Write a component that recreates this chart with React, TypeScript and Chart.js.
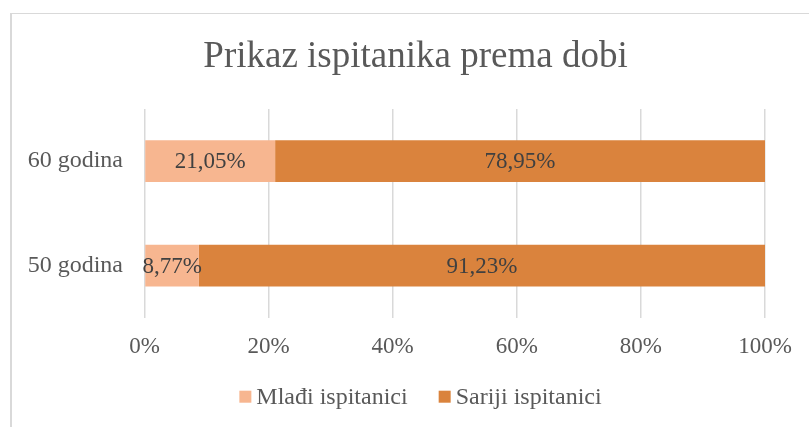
import { useEffect, useRef } from 'react';
import { Chart, registerables } from 'chart.js';

Chart.register(...registerables);

const categories = ['60 godina', '50 godina'];
const seriesNames = ['Mlađi ispitanici', 'Sariji ispitanici'];
const mladjiValues = [21.05, 8.77];
const sarijiValues = [78.95, 91.23];
const xTickMin = 0;
const xTickMax = 100;
const xTickStep = 20;
const chartTitle = 'Prikaz ispitanika prema dobi';

const FONT = "'Liberation Serif', 'Times New Roman', serif";
const LIGHT = '#F7B690';
const DARK = '#DA833D';

const fmt = (v: number) => v.toFixed(2).replace('.', ',') + '%';

const dataLabelPlugin = {
  id: 'dataLabels',
  afterDatasetsDraw(chart: any) {
    const ctx = chart.ctx;
    ctx.save();
    ctx.font = `23px ${FONT}`;
    ctx.fillStyle = '#404040';
    ctx.textAlign = 'center';
    ctx.textBaseline = 'middle';
    chart.data.datasets.forEach((ds: any, di: number) => {
      const meta = chart.getDatasetMeta(di);
      meta.data.forEach((bar: any, i: number) => {
        const cx = (bar.x + bar.base) / 2;
        ctx.fillText(fmt(ds.data[i]), cx, bar.y + 1);
      });
    });
    ctx.restore();
  },
};

const legendPlugin = {
  id: 'customLegend',
  afterDraw(chart: any) {
    const ctx = chart.ctx;
    ctx.save();
    ctx.font = `24px ${FONT}`;
    const items = chart.data.datasets.map((ds: any) => ({
      label: ds.label as string,
      color: ds.backgroundColor as string,
      w: ctx.measureText(ds.label).width,
    }));
    const box = 12;
    const gap = 5;
    const itemGap = 31;
    const total =
      items.reduce((s: number, it: any) => s + box + gap + it.w, 0) + itemGap * (items.length - 1);
    let x = chart.width / 2 + 5 - total / 2;
    const cy = chart.height - 30.3;
    ctx.textBaseline = 'middle';
    ctx.textAlign = 'left';
    items.forEach((it: any) => {
      ctx.fillStyle = it.color;
      ctx.fillRect(x, cy - box / 2, box, box);
      x += box + gap;
      ctx.fillStyle = '#595959';
      ctx.fillText(it.label, x, cy + 1);
      x += it.w + itemGap;
    });
    ctx.restore();
  },
};

export default function App() {
  const ref = useRef<HTMLCanvasElement>(null);

  useEffect(() => {
    if (!ref.current) return;
    const chart = new Chart(ref.current, {
      type: 'bar',
      data: {
        labels: categories,
        datasets: [
          {
            label: seriesNames[0],
            data: mladjiValues,
            backgroundColor: LIGHT,
            barPercentage: 0.4,
            categoryPercentage: 1,
          },
          {
            label: seriesNames[1],
            data: sarijiValues,
            backgroundColor: DARK,
            barPercentage: 0.4,
            categoryPercentage: 1,
          },
        ],
      },
      options: {
        indexAxis: 'y',
        responsive: false,
        animation: false,
        layout: { padding: 0 },
        plugins: {
          legend: { display: false },
          tooltip: { enabled: false },
          title: {
            display: true,
            text: chartTitle,
            color: '#595959',
            font: { family: FONT, size: 37, weight: 'normal', lineHeight: 1.2 },
            padding: { top: 21.3, bottom: 29.3 },
          },
        },
        scales: {
          x: {
            stacked: true,
            min: xTickMin,
            max: xTickMax,
            ticks: {
              stepSize: xTickStep,
              callback: (v: any) => v + '%',
              color: '#595959',
              font: { family: FONT, size: 23 },
              padding: 15,
              maxRotation: 0,
            },
            grid: { color: '#D9D9D9', lineWidth: 1.5, drawTicks: false },
            border: { display: false },
            afterFit: (s: any) => {
              s.height = 109.3;
            },
          },
          y: {
            stacked: true,
            ticks: {
              color: '#595959',
              font: { family: FONT, size: 24 },
              padding: 13.5,
            },
            grid: { display: false },
            border: { display: false },
            afterFit: (s: any) => {
              s.width = 132.5;
            },
          },
          yr: {
            type: 'category',
            position: 'right',
            display: true,
            grid: { display: false },
            ticks: { display: false },
            border: { display: false },
            afterFit: (s: any) => {
              s.width = 54;
            },
          },
        },
      } as any,
      plugins: [dataLabelPlugin, legendPlugin],
    });
    return () => chart.destroy();
  }, []);

  return (
    <div
      style={{
        position: 'fixed',
        left: 0,
        top: 0,
        width: 809,
        height: 427,
        overflow: 'hidden',
        background: '#fff',
      }}
    >
      <div
        style={{
          position: 'absolute',
          left: 10,
          top: 13,
          width: 840,
          height: 440,
          borderLeft: '2px solid #D9D9D9',
          borderTop: '1px solid #D9D9D9',
        }}
      >
        <canvas ref={ref} width={807} height={413} style={{ display: 'block' }} />
      </div>
    </div>
  );
}
